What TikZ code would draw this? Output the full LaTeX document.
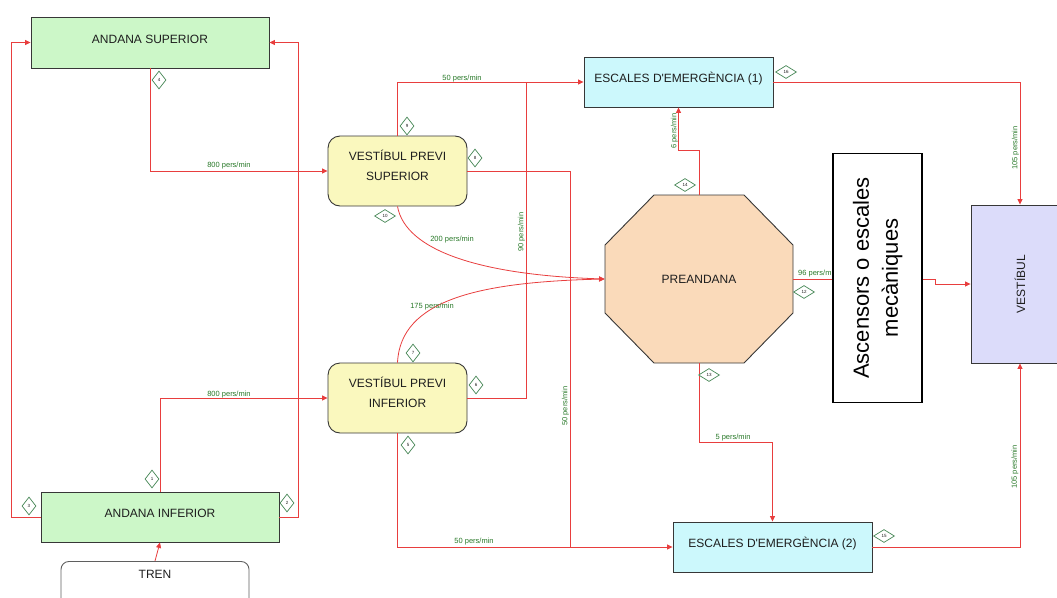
\documentclass[tikz,border=0pt]{standalone}
\usepackage{fontspec}
\usepackage{graphicx}
\setmainfont{Liberation Sans}
\usetikzlibrary{arrows.meta,shapes.geometric,calc}

\definecolor{flowred}{RGB}{232,62,62}
\definecolor{labgreen}{RGB}{40,120,40}
\definecolor{dmdgreen}{RGB}{70,135,85}
\definecolor{boxline}{RGB}{55,55,55}
\definecolor{boxtext}{RGB}{30,30,30}
\definecolor{andanafill}{RGB}{204,247,200}
\definecolor{prevfill}{RGB}{250,248,190}
\definecolor{escfill}{RGB}{204,248,252}
\definecolor{prefill}{RGB}{250,218,186}
\definecolor{vestfill}{RGB}{220,220,250}

% two centred lines, lifted slightly above the box centre
\newcommand{\twolines}[2]{\raisebox{5pt}[\height][\depth]{\begin{tabular}{@{}c@{}}#1\\#2\end{tabular}}}

\tikzset{
  box/.style={draw=boxline, line width=0.9pt, inner sep=0pt, text=boxtext,
    align=center, font=\fontsize{12}{20}\selectfont},
  liftedtext/.style={text height=9pt, text depth=8pt},
  andana/.style={box, liftedtext, fill=andanafill, minimum width=238pt, minimum height=51pt},
  prevbox/.style={box, fill=prevfill, rounded corners=12pt,
    minimum width=139pt, minimum height=70pt},
  escbox/.style={box, liftedtext, fill=escfill, minimum height=50pt},
  trenbox/.style={box, draw=boxline!80, fill=white, rounded corners=8pt},
  octa/.style={draw=boxline, line width=0.9pt, fill=prefill},
  ascbox/.style={draw=black, line width=1.2pt, fill=white, inner sep=0pt,
    minimum width=89pt, minimum height=249pt},
  vestbox/.style={box, fill=vestfill, minimum width=98pt, minimum height=158pt},
  flowline/.style={draw=flowred, line width=0.8pt},
  flow/.style={flowline, -{Triangle[length=5.5pt,width=5pt]}},
  lab/.style={text=labgreen, inner sep=0pt, font=\fontsize{7.5}{8}\selectfont},
  vlab/.style={lab, rotate=90},
  dmd/.style={diamond, draw=dmdgreen, fill=white, line width=0.7pt, inner sep=0pt,
    text=boxtext, font=\fontsize{4.5}{5}\selectfont},
  dtall/.style={dmd, minimum width=14pt, minimum height=18pt},
  dwide/.style={dmd, minimum width=21pt, minimum height=13pt}
}

\begin{document}
\begin{tikzpicture}[x=1pt,y=-1pt]
\useasboundingbox (0,0) rectangle (1057,597);
\clip (0,0) rectangle (1057,597);

% platforms, train and vestibules
\node[andana] (asup) at (150,42.5) {ANDANA SUPERIOR};
\node[andana, minimum height=50pt] (ainf) at (160,517) {ANDANA INFERIOR};
\node[trenbox, anchor=north, minimum width=188pt, text height=13pt,
  text depth=50pt, inner sep=4pt] (tren) at (155,561) {TREN};
\node[prevbox] (vps) at (397.5,171) {\twolines{VESTÍBUL PREVI}{SUPERIOR}};
\node[prevbox] (vpi) at (397.5,398) {\twolines{VESTÍBUL PREVI}{INFERIOR}};
\node[escbox, minimum width=189pt] (esc1) at (678.5,82)
  {ESCALES D\textquotesingle EMERGÈNCIA (1)};
\node[escbox, minimum width=199pt] (esc2) at (772.5,547)
  {ESCALES D\textquotesingle EMERGÈNCIA (2)};

% octagonal pre-platform
\coordinate (pc) at (699,279);
\filldraw[octa] ($(pc)+(-45,-84)$) -- ($(pc)+(45,-84)$) -- ($(pc)+(94,-34)$)
  -- ($(pc)+(94,34)$) -- ($(pc)+(45,84)$) -- ($(pc)+(-45,84)$)
  -- ($(pc)+(-94,34)$) -- ($(pc)+(-94,-34)$) -- cycle;
\node[box, draw=none, minimum width=188pt, minimum height=168pt] (pre) at (pc) {PREANDANA};

% flow into the lifts (label partly hidden by the box)
\node[lab, anchor=west] (l96) at (798,274) {96 pers/min};
\node[ascbox] (asc) at (877.5,278)
  {\rotatebox{90}{\fontsize{22}{29}\selectfont
   \begin{tabular}{@{}c@{}}Ascensors o escales\\mecàniques\end{tabular}}};
\node[vestbox] (vest) at (1020,284) {\rotatebox{90}{VESTÍBUL}};

% helper columns for the merging lines
\coordinate (x1) at (526,0);
\coordinate (x2) at (570,0);

% connectors
\draw[flow] (tren.north) -- (ainf.south);
\draw[flow] (ainf.west) -- ++(-29,0) |- (asup.west);
\draw[flow] (ainf.east) -- ++(19,0) |- (asup.east);
\draw[flow] (asup.south) |- (vps.west);
\draw[flow] (ainf.north) |- (vpi.west);
\draw[flow] (vps.north) |- (esc1.west);
\draw[flowline] (vpi.east) -| (x1 |- esc1.west);
\draw[flowline] (vps.east) -| (x2 |- esc2.west);
\draw[flow] (vpi.south) |- (esc2.west);
\draw[flow] (vps.south) .. controls +(8,44) and +(-125,-4) .. (pre.west);
\draw[flow] (vpi.north) .. controls +(3,-63) and +(-125,3) .. (pre.west);
\draw[flow] (pre.north) -- ++(0,-44) -| (esc1.south);
\draw[flow] (pre.south) -- ++(0,79) -| (esc2.north);
\draw[flowline] (pre.east) -- (pre.east -| asc.west);
\draw[flow] (asc.east |- pre.east) -- ++(13,0) |- (vest.west);
\draw[flow] (esc1.east) -| (vest.north);
\draw[flow] (esc2.east) -| (vest.south);

% flow labels
\node[lab] (l800a) at (229,166) {800 pers/min};
\node[lab] (l800b) at (229,395) {800 pers/min};
\node[lab] (l50a) at (462,79) {50 pers/min};
\node[lab] (l200) at (452,240) {200 pers/min};
\node[lab] (l175) at (432,307) {175 pers/min};
\node[lab] (l50c) at (474,542) {50 pers/min};
\node[lab] (l5) at (733,438) {5 pers/min};
\node[vlab] (l90) at (521.5,232) {90 pers/min};
\node[vlab] (l50b) at (565.5,406) {50 pers/min};
\node[vlab] (l6) at (674.5,131) {6 pers/min};
\node[vlab] (l105a) at (1015.5,148) {105 pers/min};
\node[vlab] (l105b) at (1015,467) {105 pers/min};

% numbered markers
\node[dtall] (d1) at (152,479) {1};
\node[dtall] (d2) at (287,503) {2};
\node[dtall] (d3) at (29,506) {3};
\node[dtall] (d4) at (159,80) {4};
\node[dtall] (d5) at (408,445) {5};
\node[dtall] (d6) at (476,385) {6};
\node[dtall] (d7) at (413,353) {7};
\node[dtall] (d8) at (475,158) {8};
\node[dtall] (d9) at (407,126) {9};
\node[dwide] (d10) at (385,216) {10};
\node[dwide] (d12) at (804,292) {12};
\node[dwide] (d13) at (709,375) {13};
\node[dwide] (d14) at (685,185) {14};
\node[dwide] (d15) at (884,536) {15};
\node[dwide] (d16) at (786,72) {16};
\end{tikzpicture}
\end{document}
